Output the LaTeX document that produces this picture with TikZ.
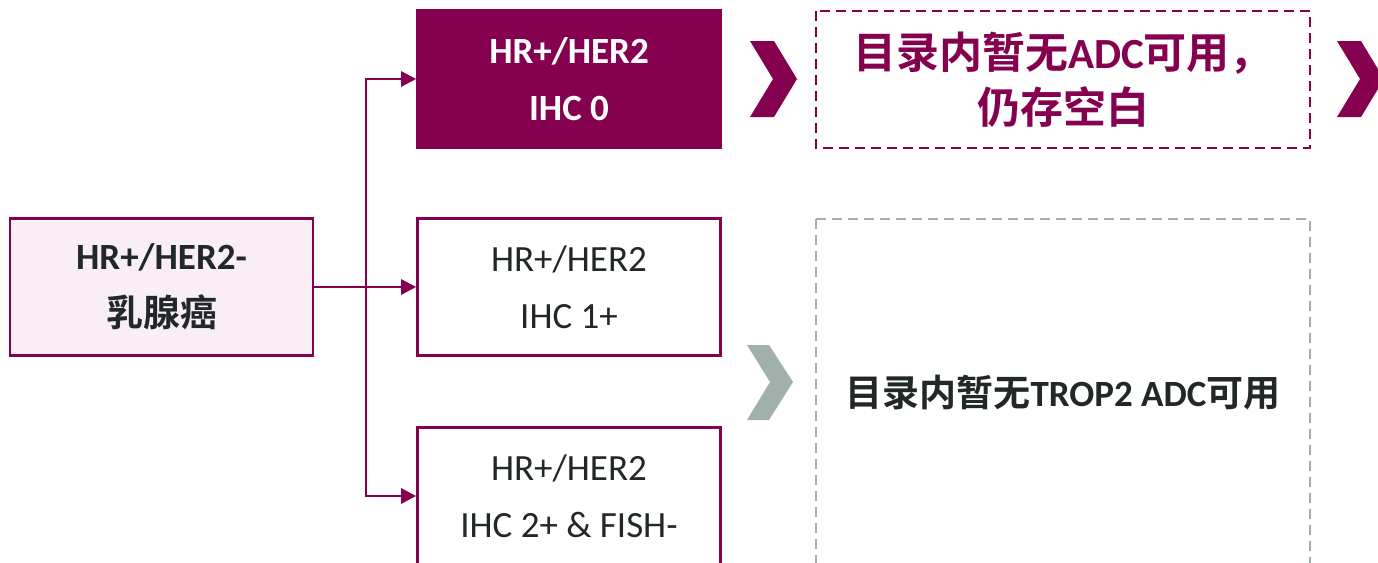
\documentclass[tikz,border=0pt]{standalone}
\usepackage{fontspec}
\setmainfont{Carlito}
\newfontfamily\cjk{Noto Sans CJK SC}[BoldFont={Noto Sans CJK SC Bold}]
\usetikzlibrary{arrows.meta}
\definecolor{maroon}{HTML}{85004F}
\definecolor{pinkbg}{HTML}{F8EEF4}
\definecolor{txtdark}{HTML}{222828}
\definecolor{sage}{HTML}{A0B1AB}
\tikzset{
  box/.style={draw=maroon, line width=2.6pt, minimum width=303pt, minimum height=137pt,
    inner sep=0pt, align=center, text=txtdark, font=\fontsize{37}{57}\selectfont},
  conn/.style={draw=maroon, line width=2.5pt, -{Triangle[length=15pt,width=15pt]}},
  dashbox/.style={line width=2.9pt, dash pattern=on 10pt off 6pt},
}
\begin{document}
\begin{tikzpicture}[x=1pt,y=-1pt]
\useasboundingbox (0,0) rectangle (1378,562);
% boxes
\node[box, fill=pinkbg] (src) at (161.5,287) {\bfseries HR+/HER2-\\{\cjk\bfseries 乳腺癌}};
\node[box, fill=maroon, text=white] (t1) at (569,79) {\bfseries HR+/HER2\\\bfseries IHC 0};
\node[box, fill=white] (t2) at (569,287) {HR+/HER2\\IHC 1+};
\node[box, fill=white] (t3) at (569,496) {HR+/HER2\\IHC 2+ \& FISH-};
% connectors
\coordinate (j) at (366,287);
\draw[conn] (src.east) -- (t2.west);
\draw[conn] (j) |- (t1.west);
\draw[conn] (j) |- (t3.west);
% chevrons
\fill[maroon] (750,41) -- (774,41) -- (797,79) -- (774,117) -- (750,117) -- (773,79) -- cycle;
\fill[maroon] (1337,41) -- (1361,41) -- (1384,79) -- (1361,117) -- (1337,117) -- (1360,79) -- cycle;
\fill[sage] (747,345) -- (769,345) -- (793,382) -- (769,420) -- (747,420) -- (770,382) -- cycle;
% dashed boxes
\draw[dashbox, draw=maroon] (816,11) rectangle (1310,148);
\draw[dashbox, draw=sage] (816,219) -- (1310,219) -- (1310,600) (816,219) -- (816,600);
\node[text=maroon, align=center, font=\fontsize{43}{55}\selectfont\bfseries] (r1) at (1063,80)
  {{\cjk 目录内暂无}ADC{\cjk 可用，}\\{\cjk 仍存空白}};
\node[text=txtdark, font=\fontsize{37}{44}\selectfont\bfseries] (r2) at (1063,393)
  {{\cjk 目录内暂无}TROP2 ADC{\cjk 可用}};
\end{tikzpicture}
\end{document}
